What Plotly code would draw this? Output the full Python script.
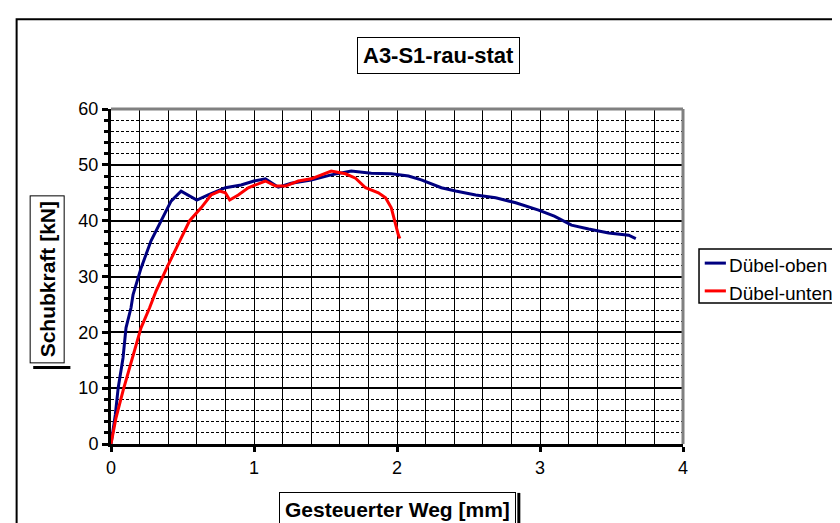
import plotly.graph_objects as go

# --- DATA ---
x_oben = [0.0, 0.03, 0.05, 0.084, 0.105, 0.14, 0.154, 0.21, 0.28, 0.35, 0.42, 0.49, 0.54, 0.60,
          0.68, 0.80, 0.91, 1.00, 1.08, 1.17, 1.26, 1.40, 1.54, 1.68, 1.82, 1.96, 2.08, 2.17,
          2.31, 2.41, 2.55, 2.69, 2.83, 2.99, 3.10, 3.22, 3.34, 3.48, 3.62, 3.67]
y_oben = [0.0, 5.2, 10.0, 15.4, 20.8, 24.4, 26.7, 31.5, 36.4, 40.0, 43.5, 45.3, 44.6, 43.7,
          44.6, 45.9, 46.4, 47.1, 47.5, 46.0, 46.7, 47.3, 48.2, 48.9, 48.5, 48.4, 48.0, 47.3,
          45.9, 45.3, 44.6, 44.1, 43.2, 41.9, 40.8, 39.2, 38.5, 37.8, 37.4, 36.8]

x_unten = [0.0, 0.035, 0.084, 0.13, 0.175, 0.21, 0.27, 0.315, 0.40, 0.48, 0.55, 0.63, 0.70,
           0.76, 0.80, 0.83, 0.89, 0.96, 1.05, 1.08, 1.15, 1.22, 1.31, 1.40, 1.54, 1.64, 1.71,
           1.78, 1.87, 1.92, 1.96, 1.99, 2.01, 2.02]
y_unten = [0.0, 4.7, 9.5, 13.6, 17.7, 20.8, 24.4, 27.4, 32.1, 36.4, 40.0, 42.3, 44.6,
           45.3, 45.0, 43.7, 44.6, 45.9, 46.7, 47.1, 46.2, 46.2, 47.1, 47.5, 48.9, 48.4, 47.6,
           45.9, 45.0, 44.1, 42.3, 39.2, 37.4, 36.8]

series_names = ["Dübel-oben", "Dübel-unten"]
series_colors = ["#000080", "#ff0000"]

FONT = "Liberation Sans, Arial, sans-serif"

fig = go.Figure()
fig.add_scatter(x=x_oben, y=y_oben, mode="lines", name=series_names[0],
                line=dict(color=series_colors[0], width=3))
fig.add_scatter(x=x_unten, y=y_unten, mode="lines", name=series_names[1],
                line=dict(color=series_colors[1], width=3))

fig.update_xaxes(range=[0, 4], dtick=1, tick0=0, showgrid=True, gridcolor="black", gridwidth=1,
                 minor=dict(dtick=0.2, showgrid=True, gridcolor="black", gridwidth=1),
                 showline=True, linecolor="black", linewidth=3,
                 ticks="outside", ticklen=5, tickwidth=3, tickcolor="black",
                 zeroline=False, tickfont=dict(size=18, color="black"))
fig.update_yaxes(range=[0, 60], dtick=10, tick0=0, showgrid=True, gridcolor="black", gridwidth=2,
                 minor=dict(dtick=2, showgrid=True, gridcolor="black", gridwidth=1,
                            griddash="3px,2px", ticks="outside", ticklen=4, tickcolor="black"),
                 showline=True, linecolor="black", linewidth=3,
                 ticks="outside", ticklen=6, tickwidth=3, tickcolor="black",
                 zeroline=False, tickfont=dict(size=18, color="black"))

# grey frame on top / right of the plot area, black outer chart border
fig.add_shape(type="line", xref="paper", yref="paper", x0=0, x1=1, y0=1, y1=1,
              line=dict(color="#808080", width=3))
fig.add_shape(type="line", xref="paper", yref="paper", x0=1, x1=1, y0=0, y1=1,
              line=dict(color="#808080", width=3))
fig.add_shape(type="rect", xref="paper", yref="paper", x0=-0.165, x1=1.5, y0=-0.5, y1=1.268,
              line=dict(color="black", width=2), layer="below")

# shadow edges of the axis title boxes (drawn first, the boxes sit on top)
fig.add_shape(type="line", xref="paper", yref="paper", x0=0.713, x1=0.713, y0=-0.146, y1=-0.257,
              line=dict(color="black", width=3))
fig.add_shape(type="line", xref="paper", yref="paper", x0=-0.136, x1=-0.071, y0=0.228, y1=0.228,
              line=dict(color="black", width=3))

# titles in boxes
fig.add_annotation(text="<b>A3-S1-rau-stat</b>", xref="paper", yref="paper", x=0.572, y=1.161,
                   xanchor="center", yanchor="middle", showarrow=False,
                   font=dict(size=22, color="black", family=FONT),
                   bordercolor="black", borderwidth=1, borderpad=5, bgcolor="white")
fig.add_annotation(text="<b>Gesteuerter Weg [mm]</b>", xref="paper", yref="paper", x=0.5, y=-0.197,
                   xanchor="center", yanchor="middle", showarrow=False,
                   font=dict(size=21, color="black", family=FONT),
                   bordercolor="black", borderwidth=1, borderpad=5, bgcolor="white")
fig.add_annotation(text="<b>Schubkraft [kN]</b>", xref="paper", yref="paper", x=-0.111, y=0.49,
                   xanchor="center", yanchor="middle", textangle=-90, showarrow=False,
                   font=dict(size=21, color="black", family=FONT),
                   bordercolor="black", borderwidth=1, borderpad=5, bgcolor="white")

# legend drawn by hand, like the compact original box
fig.add_shape(type="rect", xref="paper", yref="paper", x0=1.028, x1=1.30, y0=0.421, y1=0.582,
              line=dict(color="black", width=1.5), fillcolor="white")
legend_y = [0.540, 0.457]
for name, color, ly in zip(series_names, series_colors, legend_y):
    fig.add_shape(type="line", xref="paper", yref="paper", x0=1.038, x1=1.075, y0=ly, y1=ly,
                  line=dict(color=color, width=3))
    fig.add_annotation(text=name, xref="paper", yref="paper", x=1.077, y=ly - 0.008,
                       xanchor="left", yanchor="middle", showarrow=False,
                       font=dict(size=19, color="black", family=FONT))

fig.update_layout(width=840, height=523, margin=dict(l=103, r=165, t=101, b=87),
                  paper_bgcolor="white", plot_bgcolor="white",
                  font=dict(family=FONT, color="black"), showlegend=False)

fig.write_html("out.html")
